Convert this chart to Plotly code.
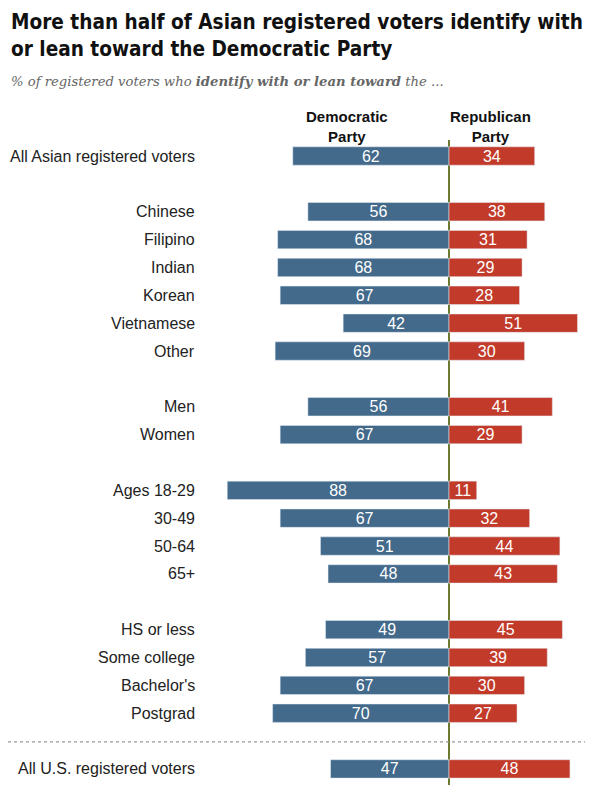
import plotly.graph_objects as go

# Rows of the chart (None = blank spacer row)
groups = ["All Asian registered voters", None,
          "Chinese", "Filipino", "Indian", "Korean", "Vietnamese", "Other", None,
          "Men", "Women", None,
          "Ages 18-29", "30-49", "50-64", "65+", None,
          "HS or less", "Some college", "Bachelor's", "Postgrad", None,
          "All U.S. registered voters"]
dem = [62, None, 56, 68, 68, 67, 42, 69, None, 56, 67, None,
       88, 67, 51, 48, None, 49, 57, 67, 70, None, 47]
rep = [34, None, 38, 31, 29, 28, 51, 30, None, 41, 29, None,
       11, 32, 44, 43, None, 45, 39, 30, 27, None, 48]

rows = [i for i, g in enumerate(groups) if g is not None]
labels = [groups[i] for i in rows]
dem_v = [dem[i] for i in rows]
rep_v = [rep[i] for i in rows]

BLUE = "#436a8a"
RED = "#c23b2a"
OFF = 8                      # page body margin that the browser adds
W, H = 593 - OFF, 800 - OFF
ZERO_PX = 449 - OFF          # x of the centre line inside the figure
PX_PER = 2.52                # pixels per percentage point
ROW0, PITCH = 156 - OFF, 27.86
TOP, BOT = 140 - OFF, 785 - OFF


def px(x):  # reference pixel x -> paper x
    return (x - OFF) / W


def py(y):  # reference pixel y -> paper y (paper = plot area)
    return (BOT - (y - OFF)) / (BOT - TOP)


fig = go.Figure()
for xs, vals, col in [([-v for v in dem_v], dem_v, BLUE), (rep_v, rep_v, RED)]:
    fig.add_trace(go.Bar(
        y=rows, x=xs, orientation="h", marker_color=col,
        text=[str(v) for v in vals], textposition="inside",
        insidetextanchor="middle", textangle=0, constraintext="none",
        textfont=dict(color="white", size=16, family="Liberation Sans"),
        width=0.66, hoverinfo="skip", cliponaxis=False))

xmin = -ZERO_PX / PX_PER
xmax = (W - ZERO_PX) / PX_PER
ytop = (TOP - ROW0) / PITCH
ybot = (BOT - ROW0) / PITCH

# row labels, right aligned left of the bars
for r, lab in zip(rows, labels):
    fig.add_annotation(x=px(197), y=r, xref="paper", yref="y", text=lab,
                       showarrow=False, xanchor="right", yanchor="middle",
                       font=dict(size=16, color="#222", family="Liberation Sans"))

# column headers
for xc, txt in [(347, "Democratic"), (490, "Republican")]:
    fig.add_annotation(x=px(xc), y=py(106), xref="paper", yref="paper",
                       text=f"<b>{txt}<br>Party</b>", showarrow=False,
                       xanchor="center", yanchor="top",
                       font=dict(size=15, color="#111", family="Liberation Sans"))

# title and subtitle
fig.add_annotation(x=px(9), y=py(8), xref="paper", yref="paper",
                   xanchor="left", yanchor="top", align="left", showarrow=False,
                   text="<b>More than half of Asian registered voters identify with<br>"
                        "or lean toward the Democratic Party</b>",
                   font=dict(size=20.6, color="#111", family="DejaVu Sans Condensed"))
fig.add_annotation(x=px(9), y=py(72), xref="paper", yref="paper",
                   xanchor="left", yanchor="top", align="left", showarrow=False,
                   text="<i>% of registered voters who <b>identify with or lean toward</b> the ...</i>",
                   font=dict(size=13.2, color="#666", family="DejaVu Serif"))

# dotted separator above the U.S. total
fig.add_shape(type="line", xref="paper", yref="y", x0=px(8), x1=px(590),
              y0=21.03, y1=21.03, line=dict(color="#999", width=1.2, dash="dot"))

fig.update_layout(
    width=W, height=H, barmode="relative", showlegend=False,
    plot_bgcolor="white", paper_bgcolor="white",
    margin=dict(l=0, r=0, t=TOP, b=H - BOT),
    xaxis=dict(range=[xmin, xmax], showgrid=False, showticklabels=False,
               zeroline=True, zerolinecolor="#6b7a2e", zerolinewidth=1.5, fixedrange=True),
    yaxis=dict(range=[ybot, ytop], showgrid=False, showticklabels=False,
               zeroline=False, fixedrange=True),
)

fig.write_html("out.html")
